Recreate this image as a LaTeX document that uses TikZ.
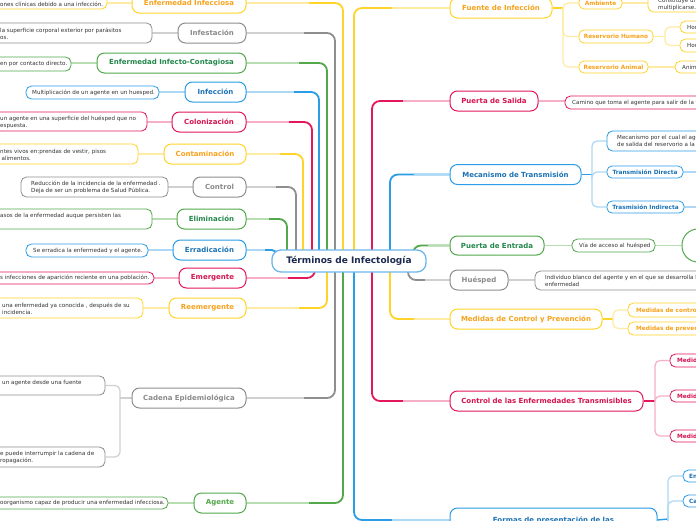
\documentclass[tikz,border=0pt]{standalone}
\usepackage{fontspec}
\setmainfont{DejaVu Sans}
\usetikzlibrary{calc}
\pgfdeclarelayer{bg}
\pgfsetlayers{bg,main}
\definecolor{Ys}{HTML}{FFD42A}
\definecolor{Yl}{HTML}{FFEBA3}
\definecolor{Yt}{HTML}{F7A21B}
\definecolor{Gs}{HTML}{52A84A}
\definecolor{Gl}{HTML}{B9DDB3}
\definecolor{Gt}{HTML}{22874A}
\definecolor{Bs}{HTML}{2B9CE6}
\definecolor{Bl}{HTML}{AED8F5}
\definecolor{Bt}{HTML}{1B72B5}
\definecolor{Ps}{HTML}{E2185B}
\definecolor{Pl}{HTML}{F6AFC7}
\definecolor{Pt}{HTML}{D5134F}
\definecolor{Ks}{HTML}{8E8E8E}
\definecolor{Kl}{HTML}{D0D0D0}
\definecolor{Kt}{HTML}{8A8A8A}
\definecolor{Cb}{HTML}{6DB6EA}
\definecolor{Ct}{HTML}{1C2A50}
\definecolor{Dt}{HTML}{333333}
\tikzset{
  mainbox/.style={draw=#1, fill=white, rounded corners=7.5, line width=1, minimum height=20, inner sep=0, font=\fontsize{7}{8}\selectfont\bfseries},
  mY/.style={mainbox=Ys, text=Yt},
  mG/.style={mainbox=Gs, text=Gt},
  mB/.style={mainbox=Bs, text=Bt},
  mP/.style={mainbox=Ps, text=Pt},
  mK/.style={mainbox=Ks, text=Kt},
  sbox/.style={draw=#1, fill=white, rounded corners=5, line width=0.8, inner sep=0, minimum height=12, font=\fontsize{5.8}{7}\selectfont\bfseries},
  sY/.style={sbox=Ys, text=Yt},
  sB/.style={sbox=Bs, text=Bt},
  dbox/.style={draw=#1, fill=white, rounded corners=5.5, line width=0.8, inner sep=0},
  dtxt/.style={anchor=west, inner sep=0, align=left, text=Dt, font=\fontsize{5.6}{7}\selectfont},
  stxt/.style={anchor=west, inner sep=0, text=#1, font=\fontsize{5.8}{7}\selectfont\bfseries},
  strong/.style={draw=#1, line width=1.8, rounded corners=8},
  soft/.style={draw=#1, line width=1.6},
  thin/.style={draw=#1, line width=1.2, rounded corners=5}
}
\begin{document}
\begin{tikzpicture}[x=1pt,y=-1pt]
\useasboundingbox (0,0) rectangle (696,520);
\begin{pgfonlayer}{bg}
\fill[white] (0,0) rectangle (696,520);
\end{pgfonlayer}

% center
\node[draw=Cb, fill=white, line width=1.3, rounded corners=9, minimum width=154, minimum height=22, inner sep=0, text=Ct, font=\fontsize{9}{10}\selectfont\bfseries] (c) at (349,261) {Términos de Infectología};

% left main nodes
\node[mY, minimum width=114] (m1) at (189,3) {Enfermedad Infecciosa};
\node[mK, minimum width=68] (m2) at (212,33) {Infestación};
\node[mG, minimum width=149] (m3) at (171.5,63) {Enfermedad Infecto-Contagiosa};
\node[mB, minimum width=61] (m4) at (215.5,92) {Infección};
\node[mP, minimum width=74] (m5) at (209,122) {Colonización};
\node[mY, minimum width=82] (m6) at (205,154) {Contaminación};
\node[mK, minimum width=53] (m7) at (219.5,187) {Control};
\node[mG, minimum width=69] (m8) at (211.5,219) {Eliminación};
\node[mB, minimum width=73] (m9) at (209.5,250) {Erradicación};
\node[mP, minimum width=67] (m10) at (212.5,278) {Emergente};
\node[mY, minimum width=77] (m11) at (207.5,308) {Reemergente};
\node[mK, minimum width=114] (m12) at (189,398) {Cadena Epidemiológica};
\node[mG, minimum width=52, text=Gs] (m13) at (220,503) {Agente};

% left description boxes
\node[dbox=Ys, minimum width=127, minimum height=17] (d1) at (43.5,0.5) {};
\node[dtxt] (t1) at (0,4) {ones clínicas debido a una infección.};
\node[dbox=Ks, minimum width=172, minimum height=20] (d2) at (66,33) {};
\node[dtxt] (t2) at (0,34) {la superficie corporal exterior por parásitos\\os.};
\node[dbox=Gs, minimum width=91, minimum height=14] (d3) at (25.5,64) {};
\node[dtxt] (t3) at (0,64) {en por contacto directo.};
\node[dbox=Bs, minimum width=133, minimum height=13] (d4) at (92.5,92.5) {};
\node[dtxt] (t4) at (32,92.5) {Multiplicación de un agente en un huesped.};
\node[dbox=Ps, minimum width=167, minimum height=19] (d5) at (63.5,121.5) {};
\node[dtxt] (t5) at (0,122) {un agente en una superficie del huésped que no\\espuesta.};
\node[dbox=Ys, minimum width=158, minimum height=20] (d6) at (59,154) {};
\node[dtxt] (t6) at (0,154.5) {ntes vivos en:prendas de vestir, pisos\\\hspace*{1.5pt}alimentos.};
\node[dbox=Ks, minimum width=147, minimum height=20] (d7) at (94.5,187) {};
\node[dtxt] (t7) at (31,187.5) {Reducción de la incidencia de la enfermedad .\\Deja de ser un problema de Salud Pública.};
\node[dbox=Gs, minimum width=172, minimum height=20] (d8) at (66,219) {};
\node[dtxt] (t8) at (0,216) {asos de la enfermedad auque persisten las};
\node[dbox=Bs, minimum width=122, minimum height=13] (d9) at (87,250.5) {};
\node[dtxt] (t9) at (33,250.5) {Se erradica la enfermedad y el agente.};
\node[dbox=Ps, minimum width=174, minimum height=12] (d10) at (67,278) {};
\node[dtxt] (t10) at (0,278) {s infecciones de aparición reciente en una población.};
\node[dbox=Ys, minimum width=163, minimum height=20] (d11) at (61.5,308) {};
\node[dtxt] (t11) at (2,308.5) {una enfermedad ya conocida , después de su\\incidencia.};
\node[dbox=Ks, minimum width=125, minimum height=19] (d12) at (42.5,385.5) {};
\node[dtxt] (t12) at (2,382.5) {un agente desde una fuente};
\node[dbox=Ks, minimum width=125, minimum height=20] (d13) at (42.5,457) {};
\node[dtxt] (t13) at (0,457.5) {e puede interrumpir la cadena de\\ropagación.};
\node[dbox=Gs, minimum width=188, minimum height=12] (d14) at (74,503) {};
\node[dtxt] (t14) at (0,503) {oorganismo capaz de producir una enfermedad infecciosa.};

% right main nodes
\node[mY, minimum width=102] (r1) at (501,8) {Fuente de Infección};
\node[mP, minimum width=88] (r2) at (494,101) {Puerta de Salida};
\node[mB, minimum width=131] (r3) at (515.5,174.5) {Mecanismo de Transmisión};
\node[mG, minimum width=94, minimum height=19] (r4) at (497,245.5) {Puerta de Entrada};
\node[mK, minimum width=58] (r5) at (479,280) {Huésped};
\node[mY, minimum width=152] (r6) at (526,319) {Medidas de Control y Prevención};
\node[mP, minimum width=193] (r7) at (546.5,401) {Control de las Enfermedades Transmisibles};
\node[mB, minimum width=207, minimum height=24] (r8) at (553.5,520) {Formas de presentación de las};

% right sub nodes
\node[sY, minimum width=43] (s1) at (600.5,3) {Ambiente};
\node[sY, minimum width=74, minimum height=13] (s2) at (616,36.5) {Reservorio Humano};
\node[sY, minimum width=69] (s3) at (613.5,67) {Reservorio Animal};
\node[sB, minimum width=76] (td) at (645,172) {Transmisión Directa};
\node[sB, minimum width=77] (ti) at (645.5,207) {Trasmisión Indirecta};

% right description boxes
\node[dbox=Ys, minimum width=112, minimum height=22] (e1) at (704,1) {};
\node[dtxt, font=\fontsize{5.6}{6.5}\selectfont] (te1) at (658,4.3) {Constituye un\\multiplicarse.};
\node[dbox=Ys, minimum width=60, minimum height=12] (h1) at (710,27) {};
\node[dtxt] (th1) at (687,27) {Hombre};
\node[dbox=Ys, minimum width=60, minimum height=13] (h2) at (710,45.5) {};
\node[dtxt] (th2) at (687,45.5) {Hombre};
\node[dbox=Ys, minimum width=65, minimum height=12] (a1) at (707.5,67) {};
\node[dtxt] (ta1) at (682,67) {Animales};
\node[dbox=Ps, minimum width=195, minimum height=13] (ps) at (662.5,102.5) {};
\node[dtxt] (tps) at (572,102.5) {Camino que toma el agente para salir de la fuente};
\node[dbox=Bs, minimum width=153, minimum height=20] (md) at (683.5,141) {};
\node[dtxt] (tmd) at (617,141) {Mecanismo por el cual el agente\\de salida del reservorio a la};
\node[dbox=Gs, minimum width=83, minimum height=13] (pe) at (613.5,245.5) {};
\node[dtxt] (tpe) at (579,245.5) {Vía de acceso al huésped};
\node[draw=Gs, fill=white, line width=1, rounded corners=16, minimum width=98, minimum height=33, inner sep=0] (pc) at (731,245.5) {};
\node[dbox=Ks, minimum width=225, minimum height=19] (hu) at (647.5,280.5) {};
\node[dtxt] (thu) at (545,280.5) {Individuo blanco del agente y en el que se desarrolla la\\enfermedad};
\node[dbox=Ys, minimum width=132, minimum height=14] (mc1) at (694,310) {};
\node[stxt=Yt] (tmc1) at (636,310) {Medidas de control};
\node[dbox=Ys, minimum width=132, minimum height=13] (mc2) at (694,328.5) {};
\node[stxt=Yt] (tmc2) at (636,328.5) {Medidas de prevención};
\node[dbox=Ps, minimum width=90, minimum height=13] (ce1) at (715,360.5) {};
\node[stxt=Pt] (tce1) at (677,360.5) {Medidas};
\node[dbox=Ps, minimum width=90, minimum height=12] (ce2) at (715,396) {};
\node[stxt=Pt] (tce2) at (677,396) {Medidas};
\node[dbox=Ps, minimum width=90, minimum height=12] (ce3) at (715,436) {};
\node[stxt=Pt] (tce3) at (677,436) {Medidas};
\node[dbox=Bs, minimum width=77, minimum height=12] (f1) at (721.5,476) {};
\node[stxt=Bt] (tf1) at (689,476) {En};
\node[dbox=Bs, minimum width=77, minimum height=12] (f2) at (721.5,501) {};
\node[stxt=Bt] (tf2) at (689,501) {Ca};

% coordinates on the center box
\coordinate (v1) at (343,256);
\coordinate (v2) at (335,256);
\coordinate (v3) at (327,256);
\coordinate (v4) at (319,256);
\coordinate (v5) at (312,256);
\coordinate (v6) at (303,256);
\coordinate (v7) at (296,256);
\coordinate (v8) at (287,256);
\coordinate (vE) at (277,258);
\coordinate (vEm) at (315,266);
\coordinate (vRe) at (327,266);
\coordinate (vCa) at (335,266);
\coordinate (vAg) at (343,266);
\coordinate (vF) at (354,256);
\coordinate (vPS) at (372,256);
\coordinate (vMT) at (390,256);
\coordinate (vPE) at (413,256);
\coordinate (vFo) at (354,266);
\coordinate (vCE) at (372,266);
\coordinate (vMe) at (390,266);
\coordinate (vHu) at (408,266);
% junctions
\coordinate (jCa) at (120,398);
\coordinate (jF) at (563,8);
\coordinate (jH) at (665,36.5);
\coordinate (jM) at (592,174.5);
\coordinate (xTD) at (700,172);
\coordinate (xTI) at (700,207);
\coordinate (jMe) at (613,319);
\coordinate (jC) at (655,401);
\coordinate (jFo) at (668,519);
\coordinate (jFo2) at (668,530);

\begin{pgfonlayer}{bg}
% left main connectors
\draw[strong=Ys] (m1.east) -| (v1);
\draw[soft=Yl] (m1.east) -- ($(m1.east)!0.65!(m1.east -| v1)$);
\draw[strong=Ks] (m2.east) -| (v2);
\draw[soft=Kl] (m2.east) -- ($(m2.east)!0.65!(m2.east -| v2)$);
\draw[strong=Gs] (m3.east) -| (v3);
\draw[soft=Gl] (m3.east) -- ($(m3.east)!0.65!(m3.east -| v3)$);
\draw[strong=Bs] (m4.east) -| (v4);
\draw[soft=Bl] (m4.east) -- ($(m4.east)!0.65!(m4.east -| v4)$);
\draw[strong=Ps] (m5.east) -| (v5);
\draw[soft=Pl] (m5.east) -- ($(m5.east)!0.65!(m5.east -| v5)$);
\draw[strong=Ys] (m6.east) -| (v6);
\draw[soft=Yl] (m6.east) -- ($(m6.east)!0.6!(m6.east -| v6)$);
\draw[strong=Ks] (m7.east) -| (v7);
\draw[soft=Kl] (m7.east) -- ($(m7.east)!0.6!(m7.east -| v7)$);
\draw[strong=Gs] (m8.east) -| (v8);
\draw[soft=Gl] (m8.east) -- ($(m8.east)!0.55!(m8.east -| v8)$);
\draw[strong=Bs, rounded corners=5] (m9.east) -| (vE);
\draw[soft=Bl] (m9.east) -- ($(m9.east)!0.6!(m9.east -| vE)$);
\draw[strong=Ps] (m10.east) -| (vEm);
\draw[soft=Pl] (m10.east) -- ($(m10.east)!0.6!(m10.east -| vEm)$);
\draw[strong=Ys] (m11.east) -| (vRe);
\draw[soft=Yl] (m11.east) -- ($(m11.east)!0.65!(m11.east -| vRe)$);
\draw[strong=Ks] (m12.east) -| (vCa);
\draw[soft=Kl] (m12.east) -- ($(m12.east)!0.65!(m12.east -| vCa)$);
\draw[strong=Gs] (m13.east) -| (vAg);
\draw[soft=Gl] (m13.east) -- ($(m13.east)!0.65!(m13.east -| vAg)$);

% left description connectors
\draw[soft=Yl] (m1.west -| d1.east) -- (m1.west);
\draw[soft=Kl] (m2.west -| d2.east) -- (m2.west);
\draw[soft=Gl] (m3.west -| d3.east) -- (m3.west);
\draw[soft=Bl] (m4.west -| d4.east) -- (m4.west);
\draw[soft=Pl] (m5.west -| d5.east) -- (m5.west);
\draw[soft=Yl] (m6.west -| d6.east) -- (m6.west);
\draw[soft=Kl] (m7.west -| d7.east) -- (m7.west);
\draw[soft=Gl] (m8.west -| d8.east) -- (m8.west);
\draw[soft=Bl] (m9.west -| d9.east) -- (m9.west);
\draw[soft=Pl] (m10.west -| d10.east) -- (m10.west);
\draw[soft=Yl] (m11.west -| d11.east) -- (m11.west);
\draw[thin=Kl] (m12.west) -- (jCa);
\draw[thin=Kl] (jCa) |- (d12.east);
\draw[thin=Kl] (jCa) |- (d13.east);
\draw[soft=Gl] (m13.west -| d14.east) -- (m13.west);

% right main connectors
\draw[strong=Ys] (vF) |- (r1.west);
\draw[soft=Yl] (r1.west) -- ($(r1.west)!0.6!(r1.west -| vF)$);
\draw[strong=Ps] (vPS) |- (r2.west);
\draw[soft=Pl] (r2.west) -- ($(r2.west)!0.6!(r2.west -| vPS)$);
\draw[strong=Bs] (vMT) |- (r3.west);
\draw[soft=Bl] (r3.west) -- ($(r3.west)!0.6!(r3.west -| vMT)$);
\draw[strong=Gs] (vPE) |- (r4.west);
\draw[soft=Gl] (r4.west) -- ($(r4.west)!0.6!(r4.west -| vPE)$);
\draw[strong=Ks] (vHu) |- (r5.west);
\draw[soft=Kl] (r5.west) -- ($(r5.west)!0.6!(r5.west -| vHu)$);
\draw[strong=Ys] (vMe) |- (r6.west);
\draw[soft=Yl] (r6.west) -- ($(r6.west)!0.6!(r6.west -| vMe)$);
\draw[strong=Ps] (vCE) |- (r7.west);
\draw[soft=Pl] (r7.west) -- ($(r7.west)!0.6!(r7.west -| vCE)$);
\draw[strong=Bs] (vFo) |- (r8.west);
\draw[soft=Bl] (r8.west) -- ($(r8.west)!0.6!(r8.west -| vFo)$);

% right children connectors
\draw[thin=Ys, line width=1.4] (r1.east) -- (jF);
\draw[thin=Yl] (jF) |- (s1.west);
\draw[thin=Yl] (jF) |- (s2.west);
\draw[thin=Yl] (jF) |- (s3.west);
\draw[thin=Yl] (s1.east) -- (s1.east -| e1.west);
\draw[thin=Yl] (s2.east) -- (jH);
\draw[thin=Yl] (jH) |- (h1.west);
\draw[thin=Yl] (jH) |- (h2.west);
\draw[thin=Yl] (s3.east) -- (a1.west);
\draw[thin=Pl] (r2.east) -- (r2.east -| ps.west);
\draw[thin=Bs, line width=1.4] (r3.east) -- (jM);
\draw[thin=Bl] (jM) |- (md.west);
\draw[thin=Bl] (jM) |- (td.west);
\draw[thin=Bl] (jM) |- (ti.west);
\draw[thin=Bl] (td.east) -- (xTD);
\draw[thin=Bl] (ti.east) -- (xTI);
\draw[thin=Gl] (r4.east) -- (pe.west);
\draw[thin=Gl] (pe.east) -- (pc.west);
\draw[thin=Kl] (r5.east) -- (r5.east -| hu.west);
\draw[thin=Ys, line width=1.4] (r6.east) -- (jMe);
\draw[thin=Yl] (jMe) |- (mc1.west);
\draw[thin=Yl] (jMe) |- (mc2.west);
\draw[thin=Ps, line width=1.4] (r7.east) -- (jC);
\draw[thin=Pl] (jC) |- (ce1.west);
\draw[thin=Pl] (jC) |- (ce2.west);
\draw[thin=Pl] (jC) |- (ce3.west);
\draw[thin=Bs, line width=1.4] (r8.east) -- (jFo);
\draw[thin=Bl] (jFo) |- (f1.west);
\draw[thin=Bl] (jFo) |- (f2.west);
\draw[thin=Bl] (jFo) -- (jFo2);
\end{pgfonlayer}
\end{tikzpicture}
\end{document}
